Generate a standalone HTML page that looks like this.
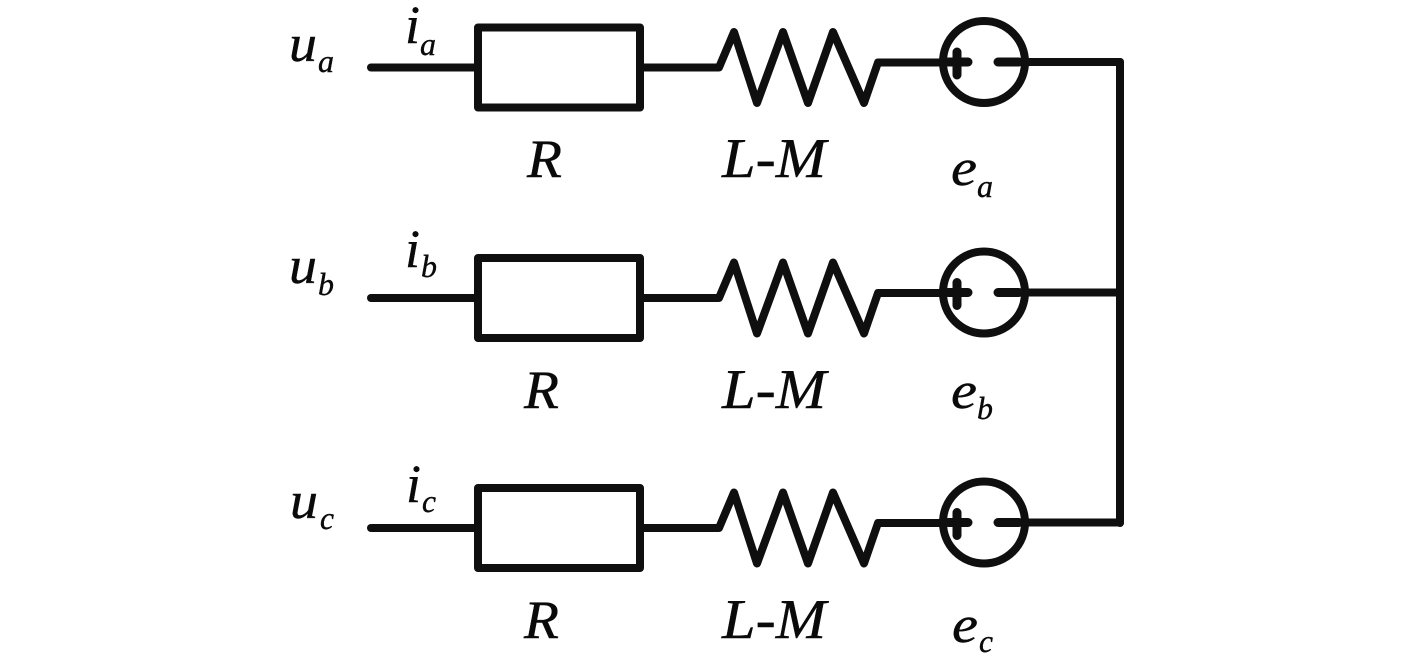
<!DOCTYPE html>
<html><head><meta charset="utf-8"><style>
html,body{margin:0;padding:0;background:#fff}
svg{display:block}
text{font-family:"Liberation Serif",serif;font-style:italic;fill:#0a0a0a;stroke:#0a0a0a;stroke-width:.4}
.m{font-size:52px}.i{font-size:54px}.r{font-size:54px}.l{font-size:56px}.s{font-size:32px}
</style></head><body>
<svg width="1417" height="661" viewBox="0 0 1417 661" xmlns="http://www.w3.org/2000/svg">
<defs><g id="r" fill="none" stroke="#0f0f0f" stroke-width="8" stroke-linejoin="round" stroke-linecap="round">
<path d="M371 67.500H478"/>
<rect x="478" y="27.500" width="162" height="80"/>
<path d="M640 67.500H719L734 32L757 103L783 32L808 103L833 32L864 103L878 62.500H945"/>
<circle cx="984" cy="62" r="41"/>
<path d="M1028 62H1120"/>
<path stroke-width="9" d="M948 62H968M957 52V75M998 62H1019"/>
</g></defs>
<use href="#r"/>
<use href="#r" y="230.500"/>
<use href="#r" y="460.500"/>
<path d="M1120 62V523" stroke="#0f0f0f" stroke-width="8" stroke-linecap="round"/>

<text class="m" x="289" y="61" textLength="28" lengthAdjust="spacingAndGlyphs">u</text><text class="s" x="318" y="72" textLength="16" lengthAdjust="spacingAndGlyphs">a</text>
<text class="i" x="405" y="43" textLength="15" lengthAdjust="spacingAndGlyphs">i</text><text class="s" x="420" y="55" textLength="16" lengthAdjust="spacingAndGlyphs">a</text>
<text class="r" x="527" y="177" textLength="35" lengthAdjust="spacingAndGlyphs">R</text>
<text class="l" x="722" y="177" textLength="104" lengthAdjust="spacingAndGlyphs">L-M</text>
<text class="m" x="951" y="185" textLength="26" lengthAdjust="spacingAndGlyphs">e</text><text class="s" x="977" y="197" textLength="16" lengthAdjust="spacingAndGlyphs">a</text>

<text class="m" x="289" y="283" textLength="28" lengthAdjust="spacingAndGlyphs">u</text><text class="s" x="318" y="295" textLength="16" lengthAdjust="spacingAndGlyphs">b</text>
<text class="i" x="405" y="267" textLength="15" lengthAdjust="spacingAndGlyphs">i</text><text class="s" x="421" y="277" textLength="16" lengthAdjust="spacingAndGlyphs">b</text>
<text class="r" x="524" y="408" textLength="35" lengthAdjust="spacingAndGlyphs">R</text>
<text class="l" x="722" y="408" textLength="104" lengthAdjust="spacingAndGlyphs">L-M</text>
<text class="m" x="951" y="408" textLength="26" lengthAdjust="spacingAndGlyphs">e</text><text class="s" x="977" y="419" textLength="16" lengthAdjust="spacingAndGlyphs">b</text>

<text class="m" x="290" y="518" textLength="28" lengthAdjust="spacingAndGlyphs">u</text><text class="s" x="320" y="529" textLength="14" lengthAdjust="spacingAndGlyphs">c</text>
<text class="i" x="406" y="502" textLength="15" lengthAdjust="spacingAndGlyphs">i</text><text class="s" x="422" y="512" textLength="14" lengthAdjust="spacingAndGlyphs">c</text>
<text class="r" x="524" y="638" textLength="35" lengthAdjust="spacingAndGlyphs">R</text>
<text class="l" x="722" y="638" textLength="104" lengthAdjust="spacingAndGlyphs">L-M</text>
<text class="m" x="952" y="642" textLength="26" lengthAdjust="spacingAndGlyphs">e</text><text class="s" x="979" y="652" textLength="14" lengthAdjust="spacingAndGlyphs">c</text>
</svg>
</body></html>
